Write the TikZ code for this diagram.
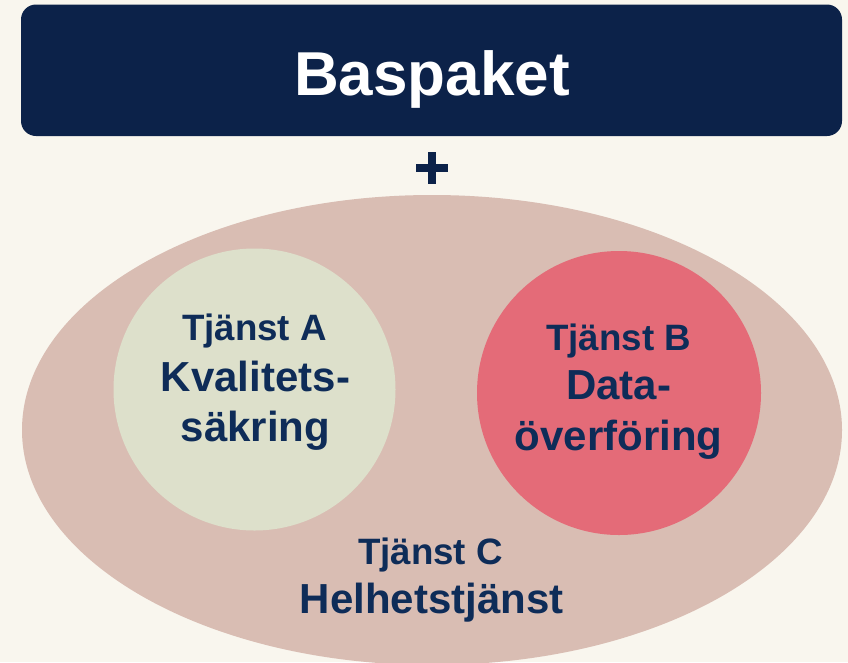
\documentclass[tikz,border=0pt]{standalone}
\usepackage{fontspec}
\setmainfont{Liberation Sans}
\definecolor{bg}{HTML}{F9F6EE}
\definecolor{navy}{HTML}{0C2249}
\definecolor{txt}{HTML}{0E2C58}
\definecolor{ell}{HTML}{D9BDB3}
\definecolor{circa}{HTML}{DDE0CB}
\definecolor{circb}{HTML}{E46B78}
\begin{document}
\begin{tikzpicture}[x=1pt,y=-1pt,
  lbl/.style={anchor=base,inner sep=0pt,text=txt,font=\bfseries\fontsize{36.7}{40}\selectfont},
  lblbig/.style={anchor=base,inner sep=0pt,text=txt,font=\bfseries\fontsize{42}{46}\selectfont}]
\useasboundingbox (0,0) rectangle (848,662);
\fill[bg] (0,0) rectangle (848,662);
% top box
\fill[navy,rounded corners=15pt] (21,4.5) rectangle (842,136);
\node[anchor=base,inner sep=0pt,text=white,font=\bfseries\fontsize{62}{68}\selectfont] (bas) at (432,95) {Baspaket};
% plus
\fill[navy] (416,164) rectangle (448,172);
\fill[navy] (428,152) rectangle (436,184);
% ellipse and circles
\fill[ell] (432,430) ellipse [x radius=410, y radius=235];
\fill[circa] (254.5,389.5) circle [radius=141];
\fill[circb] (619,393) circle [radius=142];
% texts
\node[lbl] (a1) at (254.5,340) {Tjänst A};
\node[lblbig] (a2) at (255.5,391.7) {Kvalitets-};
\node[lblbig] (a3) at (255.5,441.7) {säkring};
\node[lbl] (b1) at (618.7,350) {Tjänst B};
\node[lblbig] (b2) at (618.7,399) {Data-};
\node[lblbig] (b3) at (618.7,450) {överföring};
\node[lbl] (c1) at (430.5,564) {Tjänst C};
\node[lblbig] (c2) at (431.7,613) {Helhetstjänst};
\end{tikzpicture}
\end{document}
